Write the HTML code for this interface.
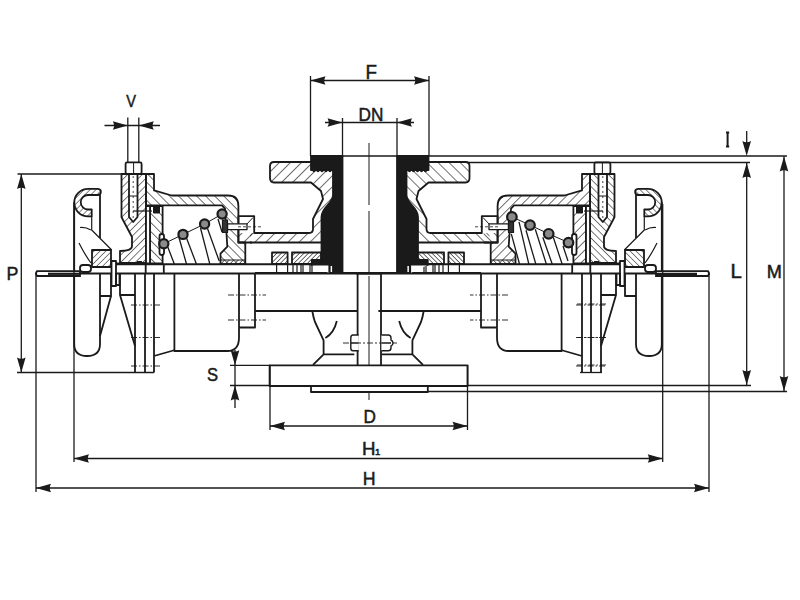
<!DOCTYPE html>
<html><head><meta charset="utf-8">
<style>
html,body{margin:0;padding:0;background:#fff;}
svg{display:block;}
text{font-family:"Liberation Sans",sans-serif;fill:#1a1a1a;}
</style></head>
<body>
<svg width="800" height="600" viewBox="0 0 800 600">
<defs>
<pattern id="h1" patternUnits="userSpaceOnUse" width="7.8" height="7.8" patternTransform="rotate(45)">
<line x1="0" y1="0" x2="0" y2="7.8" stroke="#222" stroke-width="1.3"/></pattern>
<pattern id="h2" patternUnits="userSpaceOnUse" width="6.4" height="6.4" patternTransform="rotate(-45)">
<line x1="0" y1="0" x2="0" y2="6.4" stroke="#222" stroke-width="1.3"/></pattern>
<pattern id="hk" patternUnits="userSpaceOnUse" width="5.2" height="5.2" patternTransform="rotate(45)">
<line x1="0" y1="0" x2="0" y2="5.2" stroke="#222" stroke-width="1.2"/></pattern>
<pattern id="hb" patternUnits="userSpaceOnUse" width="4.2" height="4.2" patternTransform="rotate(45)">
<line x1="0" y1="0" x2="0" y2="4.2" stroke="#222" stroke-width="1.1"/></pattern>
<pattern id="h3" patternUnits="userSpaceOnUse" width="3.2" height="3.2" patternTransform="rotate(45)">
<line x1="0" y1="0" x2="0" y2="3.2" stroke="#222" stroke-width="1.3"/></pattern>
<path id="ar" d="M0,0 L-15,-4.3 Q-12.5,0 -15,4.3 Z"/>
</defs>
<rect width="800" height="600" fill="#fff"/>

<!-- LEFT ASSEMBLY -->
<g id="LA" stroke="#1a1a1a" stroke-width="1.8" fill="none" stroke-linejoin="round">
 <!-- column -->
 <path fill="url(#hk)" d="M121.5,174 H146 V263 H120 V251 Q132,251 132,246 V237 L123,220 L121.5,217 Z"/>
 <!-- bolt -->
 <path fill="#fff" d="M129,174 H137.5 V217 L133.2,222 L129,217 Z"/>
 <path stroke-width="1" d="M129,196 H137.5"/>
 <path stroke-width="0.8" stroke-dasharray="2,3" d="M133.2,176 V218"/>
 <rect fill="#fff" x="125.6" y="162.4" width="16" height="11.4" rx="1.5"/>
 <path stroke-width="1" d="M133.6,162.4 V173.8"/>
 <!-- cover -->
 <path fill="url(#h2)" d="M146,174 H154 V190.4 L171.6,195.5 H228 Q238.4,195.5 238.4,206 V242.5 H245.3 V264.2 H220.5 V253.7 L227.3,246.7 L225,208.7 L222,205.3 H146 Z"/>
 <!-- seal ring -->
 <rect fill="url(#h2)" x="150" y="206" width="12.6" height="57.5"/>
 <rect fill="#1a1a1a" stroke="none" x="116" y="262.5" width="30" height="2.5"/>
 <rect fill="#fff" x="146" y="206" width="4" height="57.5"/>
 <rect fill="#1a1a1a" stroke-width="1" x="153.5" y="206.5" width="6" height="6.5"/>
 <rect fill="#fff" x="159.5" y="234" width="4.5" height="21" rx="2.2"/>
 <path stroke-width="1.2" d="M133,211 H152"/>
 <!-- gasket under cover block -->
 <rect fill="url(#h3)" stroke-width="1" x="220.5" y="260" width="24.8" height="4.2"/>
 <!-- boss + bolt -->
 <rect fill="url(#h1)" stroke="none" x="238.4" y="233" width="14" height="9.5"/>
 <path d="M252,242.5 H238.4 V216.2 H254.2 V233 H259"/>
 <path stroke-width="1" d="M246,225 L253,217.5"/>
 <path fill="#fff" stroke-width="1.3" d="M227.5,223.8 H247 V229.6 H227.5 Z"/>
 <rect fill="#333" stroke-width="1.2" x="222.5" y="220" width="5" height="12.5"/>
 <path stroke-width="0.8" stroke-dasharray="3,2" d="M238,226.8 H262"/>
 <!-- base gasket lines -->
 <path stroke-width="1.9" d="M116,264.2 H322 M80,273.5 H380"/>
 <path d="M145.7,264.2 V273.5 M163.8,264.2 V273.5"/>
 <rect fill="#1a1a1a" stroke="none" x="137" y="261" width="5" height="3"/>
 <!-- pin -->
 <rect fill="#fff" x="111.5" y="261" width="4.5" height="25"/>
 <path d="M116,273 V285 H119.5 V273"/>
 <!-- hatched clamp block -->
 <rect fill="url(#hb)" x="92" y="250" width="19" height="17"/>
 <rect fill="#fff" x="80" y="265" width="11" height="7" rx="3"/>
 <!-- plate -->
 
 <!-- hook -->
 <path fill="url(#hb)" d="M98,188.8 H88 A13.75,13.75 0 0 0 88,216.3 H91.7 V209.5 H88 A7.25,7.25 0 0 1 88,195 H97.5 A3.1,3.1 0 0 0 98,188.8 Z"/>
 <path d="M74.2,202 V344 Q74.2,356 87,356 Q100,356 100,344 V274 M100,194.5 V238"/>
 <path stroke-width="1.2" d="M91.7,216.2 V230 L111.7,250 M80,227.5 Q86,227 90.8,230 M79,243 Q85,255 91,263"/>
 <!-- lower clamp blocks -->
 <path d="M100,296 H111 V274 M120,274 V295 H135 M120,295 L135,346"/>
 <!-- pump flange -->
 <path d="M135,273 V372.5 M145,273 V372.5 M154,273 V372.5 M154,356 L175,350"/>
 <path stroke-width="0.9" stroke-dasharray="6,2,1.5,2" d="M131,305 H160 M131,337.5 H160 M131,366 H160 M228,295 H266 M228,320 H266"/>
 <!-- pump casing -->
 <path d="M174.4,273 V351 H227.5 Q239,351 239,337.5 V273"/>
 <!-- hub -->
 <path d="M239,327.5 H255 V273 M255,311 H357.6"/>
 <!-- gear parts -->
 <rect fill="url(#h3)" x="272" y="252.5" width="15.6" height="11.3"/>
 <rect fill="url(#h3)" x="292" y="252.5" width="29" height="11.3"/>
 <path stroke-width="1.2" d="M276.6,263.6 V273 M287.6,263.6 V273 M293,263.6 V273 M297,263.6 V273 M301,263.6 V273 M303,263.6 V273 M310,263.6 V273 M312,263.6 V273"/>
 
 <!-- shaft bracket -->
 <path d="M312.3,311 Q313.5,318 315,322 L323.6,340.3 V354.3 L313,364.8 M336.8,321 Q334,333 325.4,338 M323.6,354.3 H354.3"/>
</g>
<use href="#LA" transform="matrix(-1,0,0,1,736,0)"/>

<g stroke="#1a1a1a" stroke-width="1.8" fill="none">
 <path d="M111,296 L100,336"/>
 <path fill="#fff" d="M80,271.2 H37 Q35,273.5 37,276 H80 Z"/>
 <path stroke-width="2.2" d="M48,273.8 H80"/>
 <path fill="#fff" d="M656,271.2 H708 Q710,273.5 708,276 H656 Z"/>
 <path stroke-width="2.2" d="M656,273.8 H697"/>
</g>
<!-- CENTER -->
<g stroke="#1a1a1a" stroke-width="1.8" fill="none" stroke-linejoin="round">
 <path d="M357.6,273 V365.4 M381,273 V365.4 M255,273 H481"/>
 <path stroke-width="1.3" d="M580,372.5 H602"/>
 <path stroke-width="0.9" stroke-dasharray="6,2,1.5,2" d="M577,304 H606 M577,337.5 H606 M577,365 H606"/>
 <path stroke-width="1" d="M369,143 V205 M369,211 V272 M369,276 V400"/>
 <path stroke-width="0.9" stroke-dasharray="6,2,2,2" d="M343,343 H397"/>
 <path fill="#fff" stroke-width="1.4" d="M358.7,335 H353 Q350.8,335 350.8,338 V348 Q350.8,350.8 353,350.8 H358.7 M350.8,343 H358.7 M381.4,335 H388 Q391,335 391,338 V340 Q393,341 393,343 Q393,345 391,346 V348 Q391,350.8 388,350.8 H381.4 M381.4,343 H391"/>
 <rect fill="#fff" x="269.6" y="365.4" width="198" height="20.6"/>
 <rect fill="#fff" x="311" y="386" width="116.8" height="6"/>
</g>
<g id="FL" stroke="#1a1a1a" stroke-width="1.8" fill="none" stroke-linejoin="round">
 <path fill="url(#h1)" stroke="none" d="M274,162 H311 V170 H333 V195 C333,204 321.5,207 321.5,217 V242.5 H250 V233 H309 Q313,233 313,229 V219 L323,199 L321,191 L311,182.5 H274 Q270,182.5 270,178 V166 Q270,162 274,162 Z"/>
 <path d="M258,233 H309 Q313,233 313,229 V219 L323,199 L321,191 L311,182.5 H274 Q270,182.5 270,178 V166 Q270,162 274,162 H311 M250,242.5 H321"/>
 <path fill="#1a1a1a" d="M311,156 H342.5 V273 H333 V265 H311.75 V260 H321.5 V217 C321.5,207 333,204 333,195 V170 H311 Z"/>
 <path fill="#fff" stroke-width="1.2" d="M311.75,265 H329 V273 M330,265.5 V273"/>
 <g fill="#1a1a1a" stroke="none"><circle cx="314" cy="170.6" r="1.6"/><circle cx="318" cy="170.6" r="1.6"/><circle cx="322" cy="170.6" r="1.6"/><circle cx="326" cy="170.6" r="1.6"/><circle cx="330" cy="170.6" r="1.6"/></g>
</g>
<use href="#FL" transform="matrix(-1,0,0,1,739.5,0)"/>

<!-- SPRINGS -->
<g stroke="#1a1a1a" fill="none">
 <path stroke-width="1.3" d="M167.8,247 L174.3,264 M178.9,237.3 L186.5,264 M186.5,238 L196.4,264 M200.5,228 L209.8,264 M207.5,228.5 L219.2,261 M218,219 L222,232
  M511.3,233.8 L519.5,264 M519,221.8 L528.8,264 M526,230.3 L535.8,264 M535.3,229.2 L546.3,264 M542.8,237.3 L552.2,264 M553.3,237.3 L562.1,264 M563,246 L568,261"/>
 <path stroke-width="1" d="M163.8,243.8 L183,234.4 L204.6,224 L222.1,214 M511.9,216.9 L530,225.1 L548.7,233.8 L568.5,242.6"/>
 <g fill="#8a8a8a" stroke-width="2.2">
  <circle cx="163.8" cy="243.8" r="4.6"/><circle cx="183" cy="234.4" r="4.6"/>
  <circle cx="204.6" cy="224" r="4.6"/><circle cx="222.1" cy="214" r="4.6"/>
  <circle cx="511.9" cy="216.9" r="4.8"/><circle cx="530" cy="225.1" r="4.8"/>
  <circle cx="548.7" cy="233.8" r="4.8"/><circle cx="568.5" cy="242.6" r="4.8"/>
 </g>
</g>
<!-- DIMENSIONS -->
<g stroke="#1a1a1a" stroke-width="1.3" fill="none">
 <!-- F -->
 <line x1="310.5" y1="80.5" x2="429" y2="80.5"/>
 <line x1="310.5" y1="76" x2="310.5" y2="156"/>
 <line x1="429" y1="76" x2="429" y2="156"/>
 <!-- DN -->
 <line x1="325" y1="122.5" x2="414" y2="122.5"/>
 <line x1="342.5" y1="118" x2="342.5" y2="156"/>
 <line x1="397" y1="118" x2="397" y2="156"/>
 <!-- V -->
 <line x1="104.5" y1="125.5" x2="160" y2="125.5"/>
 <line x1="127.8" y1="117.5" x2="127.8" y2="162"/>
 <line x1="138.8" y1="117.5" x2="138.8" y2="162"/>
 <!-- P -->
 <line x1="21.3" y1="174" x2="21.3" y2="372.5"/>
 <line x1="17.5" y1="174" x2="121.5" y2="174"/>
 <line x1="17" y1="372.5" x2="154" y2="372.5"/>
 <!-- I, L, M -->
 <line x1="310.5" y1="156" x2="787" y2="156"/>
 <line x1="467" y1="162.5" x2="750" y2="162.5"/>
 <line x1="746.7" y1="131" x2="746.7" y2="150"/>
 <line x1="746.7" y1="163" x2="746.7" y2="385"/>
 <line x1="784" y1="156.5" x2="784" y2="391"/>
 <line x1="467.5" y1="385.5" x2="751" y2="385.5"/>
 <line x1="427.5" y1="391.5" x2="787" y2="391.5"/>
 <!-- S -->
 <line x1="235" y1="350" x2="235" y2="408"/>
 <line x1="230" y1="365.3" x2="270" y2="365.3"/>
 <line x1="230" y1="385.5" x2="270" y2="385.5"/>
 <!-- D H1 H -->
 <line x1="270" y1="426" x2="467.5" y2="426"/>
 <line x1="270" y1="365" x2="270" y2="430"/>
 <line x1="467.5" y1="365" x2="467.5" y2="430"/>
 <line x1="74" y1="458.5" x2="662.7" y2="458.5"/>
 <line x1="36" y1="488" x2="709" y2="488"/>
 <line x1="36" y1="273" x2="36" y2="492"/>
 <line x1="709" y1="273" x2="709" y2="492"/>
 <line x1="74" y1="204" x2="74" y2="462"/>
 <line x1="662.7" y1="204" x2="662.7" y2="462"/>
</g>
<g fill="#1a1a1a">
 <use href="#ar" transform="translate(310.5,80.5) rotate(180)"/>
 <use href="#ar" transform="translate(429,80.5)"/>
 <use href="#ar" transform="translate(342.5,122.5)"/>
 <use href="#ar" transform="translate(397,122.5) rotate(180)"/>
 <use href="#ar" transform="translate(127.8,125.5)"/>
 <use href="#ar" transform="translate(138.8,125.5) rotate(180)"/>
 <use href="#ar" transform="translate(21.3,174) rotate(-90)"/>
 <use href="#ar" transform="translate(21.3,372.5) rotate(90)"/>
 <use href="#ar" transform="translate(746.7,156) rotate(90)"/>
 <use href="#ar" transform="translate(746.7,163) rotate(-90)"/>
 <use href="#ar" transform="translate(746.7,385) rotate(90)"/>
 <use href="#ar" transform="translate(784,156.5) rotate(-90)"/>
 <use href="#ar" transform="translate(784,391) rotate(90)"/>
 <use href="#ar" transform="translate(235,365.3) rotate(90)"/>
 <use href="#ar" transform="translate(235,385.5) rotate(-90)"/>
 <use href="#ar" transform="translate(270,426) rotate(180)"/>
 <use href="#ar" transform="translate(467.5,426)"/>
 <use href="#ar" transform="translate(74,458.5) rotate(180)"/>
 <use href="#ar" transform="translate(662.7,458.5)"/>
 <use href="#ar" transform="translate(36,488) rotate(180)"/>
 <use href="#ar" transform="translate(709,488)"/>
</g>
<g stroke="#1a1a1a" stroke-width="0.5">
 <text font-size="20" transform="translate(365.5,79.4) scale(0.94,1)">F</text>
 <text font-size="18.3" transform="translate(358.6,120.6) scale(0.94,1)">DN</text>
 <text font-size="17.4" transform="translate(126.3,107) scale(0.84,1)">V</text>
 <text font-size="18.8" transform="translate(6.6,280) scale(0.95,1)">P</text>
 <text font-size="19.6" transform="translate(730.4,278) scale(1.04,1)">L</text>
 <text font-size="18.7" transform="translate(766.8,278) scale(0.97,1)">M</text>
 <text font-size="18.7" transform="translate(206.9,380.8) scale(0.89,1)">S</text>
 <text font-size="18.7" transform="translate(363.5,423.3) scale(0.92,1)">D</text>
 <text font-size="18.7" transform="translate(362,455)">H</text>
 <text font-size="9.5" stroke-width="0.5" transform="translate(375,455)">1</text>
 <text font-size="18.7" transform="translate(362.8,485) scale(0.95,1)">H</text>
</g>
<path stroke="#1a1a1a" stroke-width="2" fill="none" d="M727.6,132.5 V146.5 M726,132.5 H729.2 M726,146.5 H729.2"/>
</svg>
</body></html>
